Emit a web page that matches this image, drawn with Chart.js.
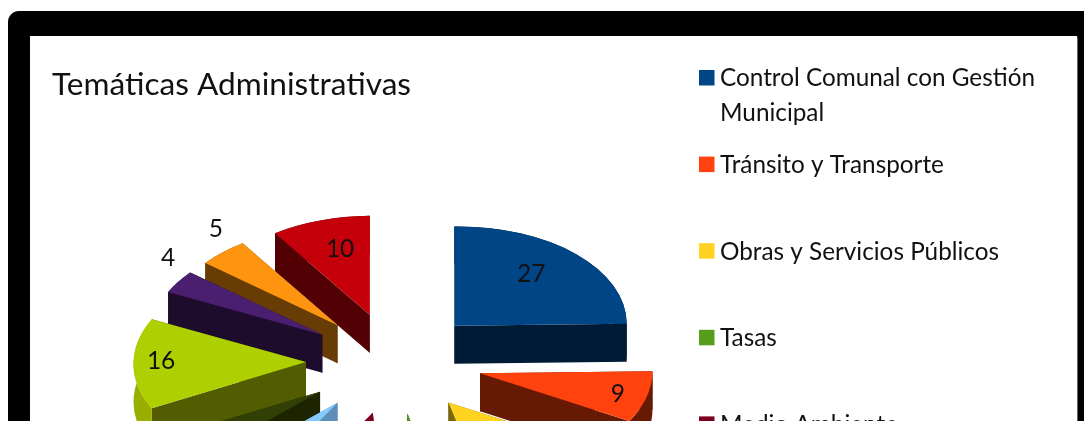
<!DOCTYPE html>
<html lang="es">
<head>
<meta charset="utf-8">
<title>Temáticas Administrativas</title>
<script src="https://cdn.jsdelivr.net/npm/chart.js@4"></script>
<style>
  html, body { margin: 0; padding: 0; background: #fff; width: 1084px; height: 421px; overflow: hidden; }
  #frame { position: absolute; left: 8px; top: 11px; width: 1090px; height: 520px; background: #000; border-radius: 11px; }
  #inner { position: absolute; left: 30px; top: 36px; width: 1047px; height: 500px; background: #fff; box-shadow: 0 0 1px 0.5px #666; }
  #wrap { position: absolute; left: 0; top: 0; width: 1084px; height: 421px; }
  canvas { display: block; }
</style>
</head>
<body>
<div id="frame"></div>
<div id="inner"></div>
<div id="wrap"><canvas id="c" width="1084" height="421"></canvas></div>
<script>
// --- data ---
const chartTitle = "Temáticas Administrativas";
const categories = [
  "Control Comunal con Gestión Municipal",
  "Tránsito y Transporte",
  "Obras y Servicios Públicos",
  "Tasas",
  "Medio Ambiente",
  "", "", "", "", "", ""
];
const values = [27, 9, 14, 3, 10, 5, 5, 16, 4, 5, 10];

// --- styles ---
const topColors  = ["#004586","#ff420e","#ffd320","#579d1c","#7e0021","#83caff","#314004","#aecf00","#4b1f6f","#ff950e","#c5000b"];
const wallColors = ["#001b35","#661a03","#7a6510","#3a6a12","#500015","#5f8fb8","#1e2400","#515d00","#1e0c2d","#683c05","#520004"];
const rimColors  = ["#001b35","#661a03","#a88c14","#3a6a12","#500015","#5f8fb8","#1e2400","#9aae00","#1e0c2d","#683c05","#520004"];
const labelAngle  = [-6, -2, 0, 0, 0, 0, 0, 1, 8, 6, 2.4];
const labelRadius = [.71, .82, .75, .75, .75, .75, .75, .84, 1.19, 1.21, .70];
const SQUASH = 0.575, DEPTH = 38, RADIUS = 172.5, EXPLODE = 84, FRONT_GROW = 4, TILT = 0.0115;
const FONT = 'Lato, "Open Sans", sans-serif';

const legendLines = [["Control Comunal con Gestión", "Municipal"]];

const explodeOf = mid => EXPLODE + FRONT_GROW * (1 + Math.sin(mid));

function pieScene(chart, ctx) {
  const arcs = chart.getDatasetMeta(0).data;
  const cx = arcs[0].x, cy = arcs[0].y;
  const order = arcs.map((a, i) => i).sort((p, q) => {
    const m = i => (arcs[i].startAngle + arcs[i].endAngle) / 2;
    return Math.sin(m(p)) - Math.sin(m(q));
  });
  ctx.save();
  ctx.translate(cx, cy); ctx.transform(1, -TILT, 0, SQUASH, 0, 0); ctx.translate(-cx, -cy);
  const d = DEPTH / SQUASH;
  order.forEach(i => {
    const a = arcs[i], mid = (a.startAngle + a.endAngle) / 2;
    const r = a.outerRadius, e = explodeOf(mid);
    const ox = a.x + Math.cos(mid) * e, oy = a.y + Math.sin(mid) * e;
    const wall = ang => {
      const px = ox + Math.cos(ang) * r, py = oy + Math.sin(ang) * r;
      ctx.beginPath();
      ctx.moveTo(ox, oy); ctx.lineTo(px, py); ctx.lineTo(px, py + d); ctx.lineTo(ox, oy + d);
      ctx.closePath(); ctx.fillStyle = wallColors[i]; ctx.fill();
    };
    wall(a.startAngle); wall(a.endAngle);
    ctx.beginPath();
    ctx.arc(ox, oy, r, a.startAngle, a.endAngle);
    ctx.arc(ox, oy + d, r, a.endAngle, a.startAngle, true);
    ctx.closePath(); ctx.fillStyle = rimColors[i]; ctx.fill();
    // the library's own arc element draws the top face, moved out along its mid-angle
    ctx.save();
    ctx.translate(ox - a.x, oy - a.y);
    a.draw(ctx);
    ctx.restore();
  });
  ctx.restore();

  ctx.fillStyle = "#111";
  ctx.font = "24.5px " + FONT;
  ctx.textAlign = "center"; ctx.textBaseline = "middle";
  arcs.forEach((a, i) => {
    const mid = (a.startAngle + a.endAngle) / 2;
    const ang = mid + labelAngle[i] * Math.PI / 180;
    const e = explodeOf(mid);
    const ox = a.x + Math.cos(mid) * e, oy = a.y + Math.sin(mid) * e * SQUASH;
    const rr = a.outerRadius * labelRadius[i];
    const lx = ox + Math.cos(ang) * rr, ly = oy + Math.sin(ang) * rr * SQUASH + 2;
    if (ly < 432) ctx.fillText(String(values[i]), lx, ly);
  });
}

const scenePlugin = {
  id: "scene",
  beforeDatasetDraw(chart) { pieScene(chart, chart.ctx); return false; },
  afterDraw(chart) {
    const ctx = chart.ctx;
    ctx.save();
    ctx.textAlign = "left"; ctx.textBaseline = "middle";
    ctx.fillStyle = "#111";
    ctx.font = "31.6px " + FONT;
    ctx.fillText(chartTitle, 52, 85);
    ctx.font = "24.3px " + FONT;
    let y = 78.5;
    categories.forEach((name, i) => {
      if (y - 14 > 421 || !name) return;
      const lines = legendLines.find(l => l.join(" ") === name) || [name];
      ctx.fillStyle = topColors[i];
      ctx.fillRect(699, y - 8.5, 15.5, 15.5);
      ctx.fillStyle = "#111";
      lines.forEach((t, k) => ctx.fillText(t, 720, y + k * 35));
      y += 86.6;
    });
    ctx.restore();
  }
};

new Chart(document.getElementById("c"), {
  type: "pie",
  data: {
    labels: categories,
    datasets: [{
      data: values,
      backgroundColor: topColors,
      borderWidth: 0
    }]
  },
  options: {
    responsive: false,
    animation: false,
    radius: RADIUS,
    layout: { padding: { top: 301, right: 296 } },
    plugins: { legend: { display: false }, title: { display: false }, tooltip: { enabled: false } }
  },
  plugins: [scenePlugin]
});
</script>
</body>
</html>
